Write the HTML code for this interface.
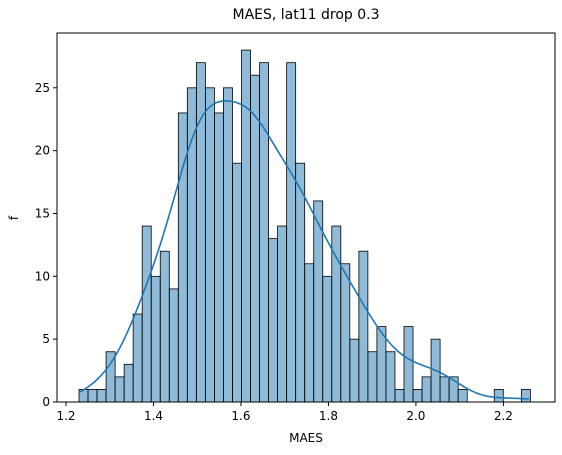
<!DOCTYPE html>
<html><head><meta charset="utf-8"><style>
html,body{margin:0;padding:0;background:#fff;}
svg{display:block;font-family:"DejaVu Sans","Liberation Sans",sans-serif;}
</style></head><body>
<svg id="chart" width="562" height="455" viewBox="0 0 562 455" xmlns="http://www.w3.org/2000/svg">
<text x="306" y="19" font-size="14" text-anchor="middle" fill="#000">MAES, lat11 drop 0.3</text>
<text x="306" y="442" font-size="12" text-anchor="middle" fill="#000">MAES</text>
<text x="18" y="218" font-size="12" text-anchor="middle" fill="#000" transform="rotate(-90 18 218)">f</text>
<g id="bars"></g>
<path id="kde" fill="none" stroke="#1f77b4" stroke-width="1.6"/>
<g id="axes"></g>
<rect x="57" y="33" width="498" height="369" fill="none" stroke="#000" stroke-width="1"/>
</svg>
<script>
const binStart = 1.2297;
const binWidth = 0.02064;
const counts = [1,1,1,4,2,3,7,14,10,12,9,23,25,27,25,23,25,19,28,26,27,13,14,27,19,11,16,10,14,11,5,12,4,6,4,1,6,1,2,5,2,2,1,0,0,0,1,0,0,1];
const xTicks = [1.2,1.4,1.6,1.8,2.0,2.2];
const xTickLabels = ["1.2","1.4","1.6","1.8","2.0","2.2"];
const yTicks = [0,5,10,15,20,25];

const L=57,R=555,T=33,B=402;
const xMin=1.1794,xMax=2.318,yMin=0,yMax=29.36;
const sx=v=>L+(v-xMin)/(xMax-xMin)*(R-L);
const sy=v=>B-(v-yMin)/(yMax-yMin)*(B-T);
const NS="http://www.w3.org/2000/svg";
const bars=document.getElementById('bars');
counts.forEach((c,i)=>{
  if(c<=0) return;
  const r=document.createElementNS(NS,'rect');
  const x0=sx(binStart+i*binWidth),x1=sx(binStart+(i+1)*binWidth);
  r.setAttribute('x',x0);r.setAttribute('width',x1-x0);
  r.setAttribute('y',sy(c));r.setAttribute('height',sy(0)-sy(c));
  r.setAttribute('fill','rgba(31,119,180,0.5)');r.setAttribute('stroke','#000');r.setAttribute('stroke-width','0.8');
  
  
  bars.appendChild(r);
});
let n=0,m=0;counts.forEach((c,i)=>{n+=c;m+=c*(binStart+(i+.5)*binWidth);});m/=n;
let v=0;counts.forEach((c,i)=>{const x=binStart+(i+.5)*binWidth;v+=c*(x-m)*(x-m);});
const sd=Math.sqrt(v/(n-1));const h=sd*Math.pow(n,-0.2);
const lo=binStart+0.001,hi=binStart+counts.length*binWidth-0.003;
let d='';
for(let k=0;k<=200;k++){
  const x=lo+(hi-lo)*k/200;let s=0;
  counts.forEach((c,i)=>{const xi=binStart+(i+.5)*binWidth;const z=(x-xi)/h;s+=c*Math.exp(-0.5*z*z);});
  const dens=s/(n*h*Math.sqrt(2*Math.PI));
  d+=(k?'L':'M')+sx(x).toFixed(2)+','+sy(dens*n*binWidth).toFixed(2);
}
document.getElementById('kde').setAttribute('d',d);
const axes=document.getElementById('axes');
xTicks.forEach((t,i)=>{
  const l=document.createElementNS(NS,'line');
  l.setAttribute('x1',sx(t));l.setAttribute('x2',sx(t));l.setAttribute('y1',B);l.setAttribute('y2',B+4);l.setAttribute('stroke','#000');
  
  
  axes.appendChild(l);
  const tx=document.createElementNS(NS,'text');
  tx.setAttribute('x',sx(t));tx.setAttribute('y',B+18);tx.setAttribute('font-size','12');tx.setAttribute('text-anchor','middle');
  tx.textContent=xTickLabels[i];
  
  
  axes.appendChild(tx);
});
yTicks.forEach(t=>{
  const l=document.createElementNS(NS,'line');
  l.setAttribute('x1',L-4);l.setAttribute('x2',L);l.setAttribute('y1',sy(t));l.setAttribute('y2',sy(t));l.setAttribute('stroke','#000');
  
  
  axes.appendChild(l);
  const tx=document.createElementNS(NS,'text');
  tx.setAttribute('x',L-7);tx.setAttribute('y',sy(t)+4);tx.setAttribute('font-size','12');tx.setAttribute('text-anchor','end');
  tx.textContent=String(t);
  
  
  axes.appendChild(tx);
});
</script>
</body></html>
